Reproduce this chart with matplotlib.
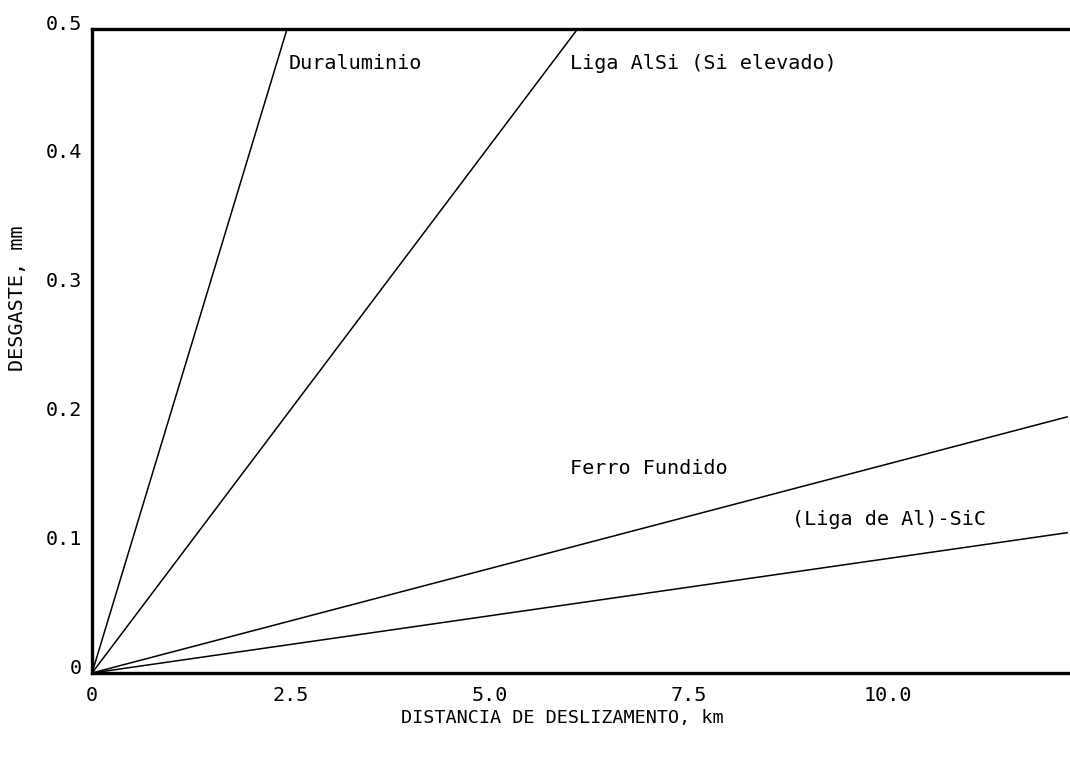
import matplotlib
matplotlib.use('Agg')
import matplotlib.pyplot as plt
import matplotlib.transforms as mtransforms

plt.rcParams['font.family'] = 'DejaVu Sans Mono'

# wear lines, (distance km, wear mm) end points
dur_x = [0, 2.45]
dur_y = [0, 0.5]
alsi_x = [0, 6.1]
alsi_y = [0, 0.5]
ferro_x = [0, 12.26]
ferro_y = [0, 0.199]
sic_x = [0, 12.26]
sic_y = [0, 0.109]

xticks = [0, 2.5, 5.0, 7.5, 10.0]
xtick_labels = ['0', '2.5', '5.0', '7.5', '10.0']
yticks = [0, 0.1, 0.2, 0.3, 0.4, 0.5]
ytick_labels = ['0', '0.1', '0.2', '0.3', '0.4', '0.5']

fig = plt.figure(figsize=(10.7, 7.59), dpi=100)
ax = fig.add_axes([0.086, 0.1133, 0.912, 0.8485])

for xs, ys in [(dur_x, dur_y), (alsi_x, alsi_y), (ferro_x, ferro_y), (sic_x, sic_y)]:
    ax.plot(xs, ys, color='black', lw=1.1, solid_capstyle='butt')

ax.set_xlim(0, 12.26)
ax.set_ylim(0, 0.5)
ax.set_xticks(xticks)
ax.set_xticklabels(xtick_labels)
ax.set_yticks(yticks)
ax.set_yticklabels(ytick_labels)
ax.tick_params(length=0, labelsize=14.5, pad=9)
ax.tick_params(axis='y', pad=7)
# shift y tick labels up a bit
shift = mtransforms.ScaledTranslation(0, 5 / 72, fig.dpi_scale_trans)
for lab in ax.get_yticklabels():
    lab.set_transform(lab.get_transform() + shift)

for side in ['left', 'top', 'bottom']:
    ax.spines[side].set_linewidth(2.4)
ax.spines['right'].set_visible(False)

ax.text(2.47, 0.473, 'Duraluminio', fontsize=14.5, ha='left', va='center')
ax.text(6.0, 0.473, 'Liga AlSi (Si elevado)', fontsize=14.5, ha='left', va='center')
ax.text(6.0, 0.159, 'Ferro Fundido', fontsize=14.5, ha='left', va='center')
ax.text(8.8, 0.119, '(Liga de Al)-SiC', fontsize=14.5, ha='left', va='center')

fig.text(562 / 1070, 1 - 718 / 759, 'DISTANCIA DE DESLIZAMENTO, km', fontsize=13.3,
         ha='center', va='center')
fig.text(18 / 1070, 1 - 298 / 759, 'DESGASTE, mm', fontsize=14.5, rotation=90,
         ha='center', va='center')

fig.savefig('out.png', dpi=100)
